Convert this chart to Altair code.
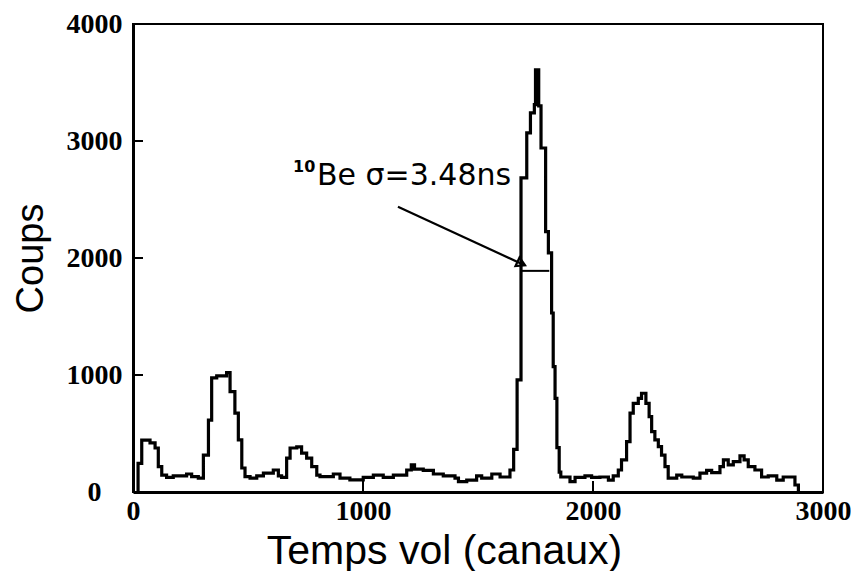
import altair as alt
import pandas as pd

# Histogram steps (channel where a step starts, counts on that step)
edges = [20, 22, 38, 74, 96, 110, 125, 146, 175, 233, 255, 284, 306, 328, 342, 364,
         407, 422, 443, 458, 473, 487, 509, 538, 567, 610, 632, 646, 668, 683, 712,
         733, 755, 777, 799, 813, 871, 900, 943, 1001, 1045, 1088, 1132, 1190, 1210,
         1224, 1262, 1306, 1349, 1400, 1415, 1451, 1494, 1516, 1560, 1596, 1639, 1655,
         1670, 1687, 1712, 1728, 1745, 1750, 1764, 1774, 1794, 1806, 1820, 1827, 1835,
         1843, 1853, 1860, 1900, 1922, 1965, 1994, 2030, 2067, 2088, 2110, 2124, 2146,
         2161, 2175, 2197, 2211, 2230, 2244, 2255, 2269, 2284, 2298, 2313, 2327, 2364,
         2386, 2436, 2465, 2494, 2516, 2552, 2567, 2588, 2610, 2639, 2657, 2675, 2704,
         2733, 2762, 2799, 2827, 2878, 2893]
counts = [0, 245, 444, 420, 376, 217, 145, 125, 137, 154, 131, 119, 316, 615, 975, 992,
          1020, 858, 675, 445, 205, 131, 119, 137, 162, 188, 137, 125, 290, 376, 385,
          333, 290, 217, 145, 131, 154, 119, 103, 125, 145, 125, 145, 188, 231,
          195, 185, 154, 137, 119, 88, 102, 137, 119, 154, 128, 188, 365,
          958, 2685, 3070, 3240, 3311, 3608, 3300, 2940, 2226, 2043, 1530, 1071, 800,
          380, 170, 128, 88, 125, 137, 125, 128, 102, 137, 188, 274, 430,
          675, 758, 801, 844, 758, 644, 516, 445, 387, 316, 217, 119, 145,
          128, 119, 162, 185, 165, 217, 274, 231, 260, 308, 274, 217, 188,
          128, 137, 102, 128, 60, 0]

x_ticks = [0, 1000, 2000, 3000]
y_ticks = [0, 1000, 2000, 3000, 4000]

# FWHM marker
fwhm_x = [1687, 1810]
fwhm_y = 1890

# annotation
label_main = "Be σ=3.48ns"
label_sup = "10"
label_pos = (800, 2625)
sup_pos = (696, 2736)
arrow_from = (1152, 2437)
arrow_to = (1700, 1941)

hist = pd.DataFrame({"canal": edges, "coups": counts})

xs = alt.Scale(domain=[0, 3000], nice=False, zero=False)
ys = alt.Scale(domain=[0, 4000], nice=False)

x_axis = alt.Axis(values=x_ticks, format="d", grid=False, ticks=False,
                  domainColor="black", domainWidth=3,
                  labelFont="Liberation Serif", labelFontWeight="bold", labelFontSize=28,
                  labelColor="black", labelPadding=5, labelFlush=False,
                  title="Temps vol (canaux)", titleFont="Liberation Sans",
                  titleFontSize=41, titleFontWeight="normal", titleColor="black",
                  titleX=311, titleY=71, titleBaseline="alphabetic", titleAlign="center")
y_axis = alt.Axis(values=y_ticks, format="d", grid=False, ticks=False,
                  domainColor="black", domainWidth=3,
                  labelFont="Liberation Serif", labelFontWeight="bold", labelFontSize=28,
                  labelColor="black", labelPadding=39, labelAlign="center",
                  title="Coups", titleFont="Liberation Sans", titleFontSize=38,
                  titleFontWeight="normal", titleColor="black", titleAngle=270,
                  titleX=-91, titleY=234, titleBaseline="alphabetic", titleAlign="center")

line = alt.Chart(hist).mark_line(interpolate="step-after", color="black",
                                 strokeWidth=3.2).encode(
    x=alt.X("canal:Q", scale=xs, axis=x_axis),
    y=alt.Y("coups:Q", scale=ys, axis=y_axis),
)

xt = alt.Chart(pd.DataFrame({"t": x_ticks})).mark_rule(color="black", strokeWidth=2).encode(
    x=alt.X("t:Q", scale=xs), y=alt.value(468), y2=alt.value(457))
yt = alt.Chart(pd.DataFrame({"t": y_ticks})).mark_rule(color="black", strokeWidth=2).encode(
    y=alt.Y("t:Q", scale=ys), x=alt.value(0), x2=alt.value(10))

fwhm = alt.Chart(pd.DataFrame({"a": [fwhm_x[0]], "b": [fwhm_x[1]], "y": [fwhm_y]})).mark_rule(
    color="black", strokeWidth=2).encode(
    x=alt.X("a:Q", scale=xs), x2="b:Q", y=alt.Y("y:Q", scale=ys))

arrow = alt.Chart(pd.DataFrame({"a": [arrow_from[0]], "b": [arrow_to[0]],
                                "ya": [arrow_from[1]], "yb": [arrow_to[1]]})).mark_rule(
    color="black", strokeWidth=2.2).encode(
    x=alt.X("a:Q", scale=xs), x2="b:Q", y=alt.Y("ya:Q", scale=ys), y2="yb:Q")

head = alt.Chart(pd.DataFrame({"x": [arrow_to[0] - 12], "y": [arrow_to[1] + 12]})).mark_point(
    shape="triangle-right", angle=25, size=90, filled=False, color="black",
    strokeWidth=2.2, opacity=1).encode(
    x=alt.X("x:Q", scale=xs), y=alt.Y("y:Q", scale=ys))

txt = alt.Chart(pd.DataFrame({"x": [label_pos[0]], "y": [label_pos[1]], "s": [label_main]})).mark_text(
    align="left", baseline="alphabetic", font="DejaVu Sans", fontSize=30, color="black").encode(
    x=alt.X("x:Q", scale=xs), y=alt.Y("y:Q", scale=ys), text="s:N")
sup = alt.Chart(pd.DataFrame({"x": [sup_pos[0]], "y": [sup_pos[1]], "s": [label_sup]})).mark_text(
    align="left", baseline="alphabetic", font="DejaVu Sans", fontSize=16, fontWeight="bold",
    color="black").encode(
    x=alt.X("x:Q", scale=xs), y=alt.Y("y:Q", scale=ys), text="s:N")

chart = alt.layer(line, xt, yt, fwhm, arrow, head, txt, sup).properties(
    width=690, height=468,
    autosize=alt.AutoSizeParams(type="none"),
    padding={"left": 125, "top": 16, "right": 28, "bottom": 79},
    background="white",
).configure_view(stroke="black", strokeWidth=2)

chart.save("out.html", embed_options={"renderer": "svg", "actions": False})
